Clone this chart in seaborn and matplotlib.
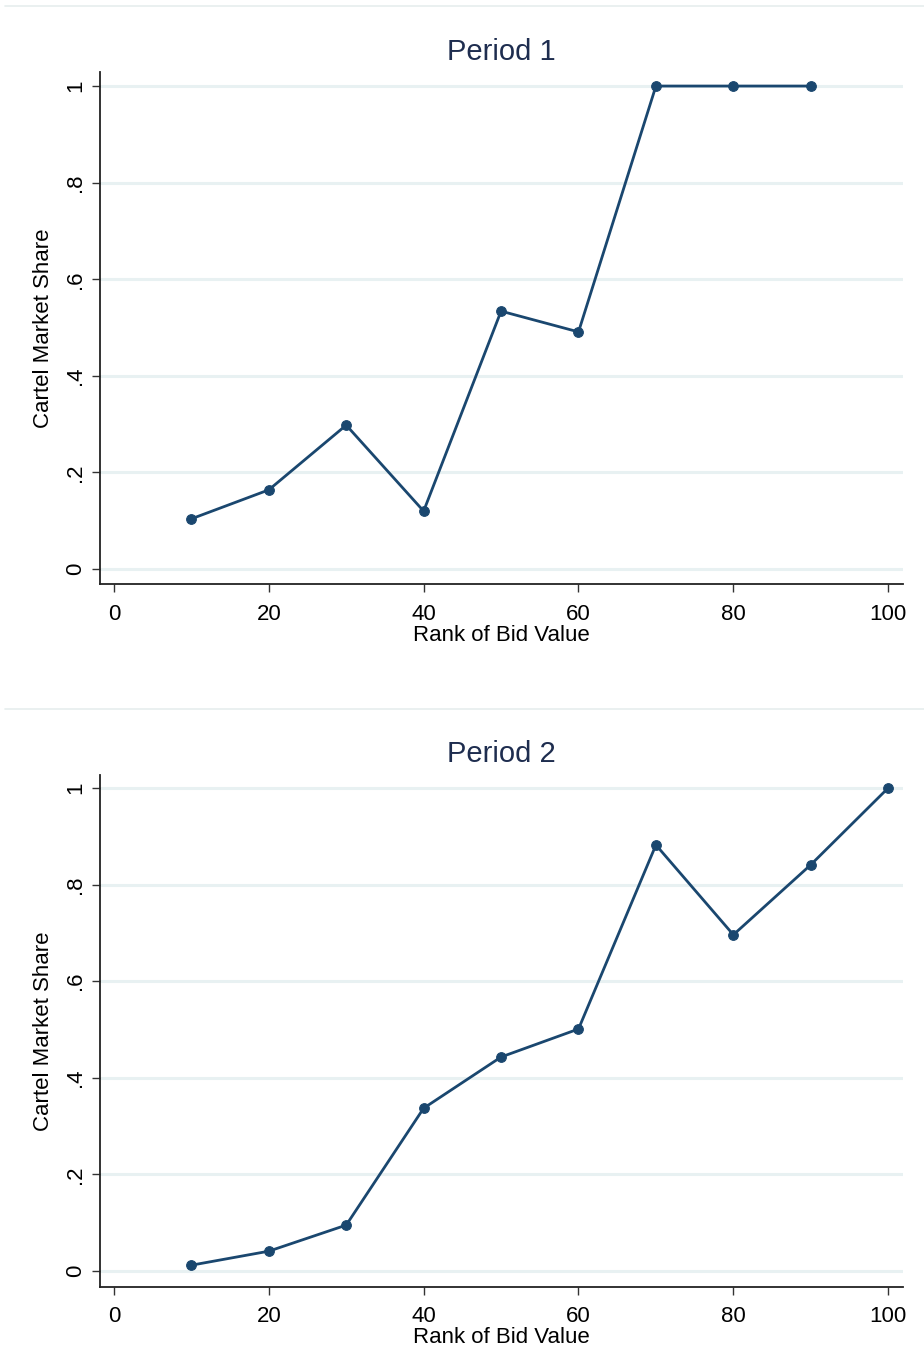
# Cartel market share by rank of bid value, two periods (Stata-style look)

import numpy as np
import pandas as pd
import matplotlib
matplotlib.use("Agg")
import matplotlib.pyplot as plt
from matplotlib.lines import Line2D
import seaborn as sns

# -------------------- DATA --------------------
rank_p1 = [10, 20, 30, 40, 50, 60, 70, 80, 90]
share_p1 = [0.104, 0.164, 0.298, 0.120, 0.534, 0.491, 1.0, 1.0, 1.0]

rank_p2 = [10, 20, 30, 40, 50, 60, 70, 80, 90, 100]
share_p2 = [0.012, 0.041, 0.095, 0.337, 0.443, 0.501, 0.882, 0.696, 0.841, 1.0]

titles = ["Period 1", "Period 2"]
ytick_vals = [0, 0.2, 0.4, 0.6, 0.8, 1.0]
ytick_labels = ["0", ".2", ".4", ".6", ".8", "1"]
xtick_vals = [0, 20, 40, 60, 80, 100]

# -------------------- STYLE --------------------
sns.set_style("white")
plt.rcParams['font.family'] = ['Liberation Sans', 'DejaVu Sans']
plt.rcParams['text.color'] = "black"
plt.rcParams['axes.labelcolor'] = "black"
plt.rcParams['xtick.color'] = "black"
plt.rcParams['ytick.color'] = "black"

navy = "#1a476f"
title_col = "#1e2d4f"
grid_col = "#e8f1f2"

fig = plt.figure(figsize=(9.24, 13.72), dpi=100)

# light frame lines between the two graphs
for yy in [1 - 6 / 1372, 1 - 709 / 1372]:
    fig.add_artist(Line2D([0.005, 1.0], [yy, yy], transform=fig.transFigure,
                          color="#e6eeee", lw=1.2))

panels = [
    (rank_p1, share_p1, [0.1082, 0.5743, 0.869, 0.3732], (-0.031, 1.029)),
    (rank_p2, share_p2, [0.1082, 0.0620, 0.869, 0.3732], (-0.033, 1.027)),
]

for (xs, ys, pos, ylim), title in zip(panels, titles):
    ax = fig.add_axes(pos)
    df = pd.DataFrame({"rank": xs, "share": ys})
    for v in ytick_vals:
        ax.axhline(v, color=grid_col, lw=2.2, zorder=0)
    sns.lineplot(data=df, x="rank", y="share", ax=ax, color=navy, lw=2,
                 marker="o", markersize=7, markeredgecolor=navy,
                 markerfacecolor=navy)
    ax.set_xlim(-1.8, 101.9)
    ax.set_ylim(*ylim)
    ax.set_xticks(xtick_vals)
    ax.set_xticklabels([str(v) for v in xtick_vals], fontsize=16)
    ax.set_yticks(ytick_vals)
    ax.set_yticklabels(ytick_labels, fontsize=16, rotation=90, va="center")
    ax.tick_params(axis="both", direction="out", length=6, width=1,
                   color="#333333", bottom=True, left=True)
    ax.tick_params(axis="x", pad=8)
    ax.tick_params(axis="y", pad=4)
    for s in ["top", "right"]:
        ax.spines[s].set_visible(False)
    for s in ["left", "bottom"]:
        ax.spines[s].set_color("#222222")
        ax.spines[s].set_linewidth(1.3)
    ax.set_xlabel("Rank of Bid Value", fontsize=16, labelpad=0)
    ax.set_ylabel("Cartel Market Share", fontsize=16, labelpad=8)
    ax.set_title(title, fontsize=21, color=title_col, pad=9)

fig.savefig("out.png", dpi=100)
